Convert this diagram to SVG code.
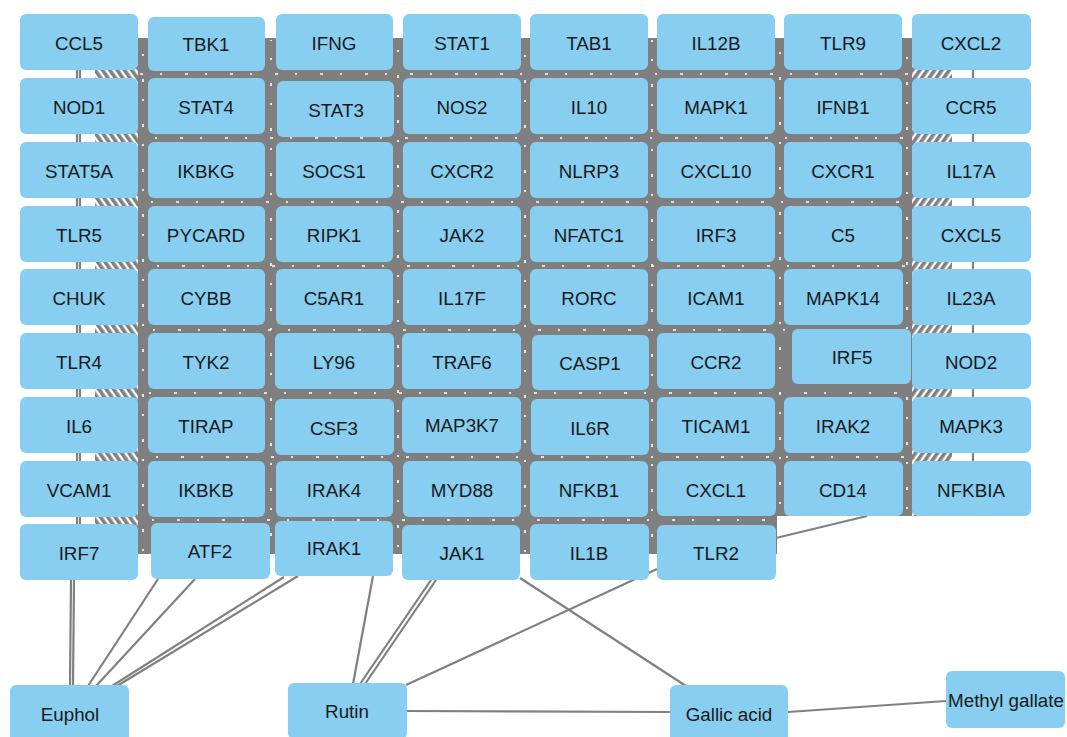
<svg xmlns="http://www.w3.org/2000/svg" width="1067" height="737" viewBox="0 0 1067 737">
<defs>
<pattern id="hatchL" width="6" height="6" patternUnits="userSpaceOnUse" patternTransform="rotate(-35)"><rect width="6" height="6" fill="#fff"/><rect width="3.6" height="6" fill="#808080"/></pattern>
<pattern id="hatchR" width="6" height="6" patternUnits="userSpaceOnUse" patternTransform="rotate(35)"><rect width="6" height="6" fill="#fff"/><rect width="3.6" height="6" fill="#808080"/></pattern>
</defs>
<style>
.n rect{fill:#87CEF0;stroke:none}
.n text{font-family:"Liberation Sans",Arial,sans-serif;font-size:18.8px;fill:#1a1a1a;text-anchor:middle;dominant-baseline:central}
.e{stroke:#808080;stroke-width:2.2;fill:none}
.sp{stroke:#fff;stroke-width:1.6;stroke-dasharray:3 17 2 23;fill:none}
</style>
<rect width="1067" height="737" fill="#fff"/>
<g id="connectors">
<path d="M138,38 H912 V516 H777 V554 H138 Z" fill="#7f7f7f"/>
<path d="M95,40 H138 V554 H95 Z" fill="url(#hatchL)"/>
<path d="M912,40 H952 V516 H912 Z" fill="url(#hatchR)"/>
<line class="e" x1="77" y1="42" x2="77" y2="552"/>
<line class="e" x1="80" y1="42" x2="80" y2="552"/>
<line class="e" x1="973" y1="42" x2="973" y2="490"/>
<g class="sp">
<line x1="140" y1="74" x2="910" y2="74"/>
<line x1="140" y1="138" x2="910" y2="138" stroke-dashoffset="5"/>
<line x1="140" y1="202" x2="910" y2="202" stroke-dashoffset="9"/>
<line x1="140" y1="266" x2="910" y2="266" stroke-dashoffset="3"/>
<line x1="140" y1="330" x2="910" y2="330" stroke-dashoffset="7"/>
<line x1="140" y1="393" x2="910" y2="393" stroke-dashoffset="11"/>
<line x1="140" y1="457" x2="910" y2="457" stroke-dashoffset="4"/>
<line x1="140" y1="520" x2="775" y2="520" stroke-dashoffset="8"/>
<line x1="143" y1="40" x2="143" y2="552" stroke-dashoffset="6"/>
<line x1="271" y1="40" x2="271" y2="552" stroke-dashoffset="2"/>
<line x1="398" y1="40" x2="398" y2="552" stroke-dashoffset="10"/>
<line x1="525" y1="40" x2="525" y2="552" stroke-dashoffset="5"/>
<line x1="652" y1="40" x2="652" y2="552" stroke-dashoffset="1"/>
<line x1="780" y1="40" x2="780" y2="516" stroke-dashoffset="8"/>
<line x1="907" y1="40" x2="907" y2="516" stroke-dashoffset="3"/>
</g>
<line class="e" x1="71" y1="580" x2="70" y2="686"/>
<line class="e" x1="74" y1="580" x2="73" y2="686"/>
<line class="e" x1="158" y1="579" x2="88" y2="686"/>
<line class="e" x1="195" y1="579" x2="96" y2="686"/>
<line class="e" x1="284" y1="577" x2="112" y2="686"/>
<line class="e" x1="298" y1="576" x2="117" y2="686"/>
<line class="e" x1="373" y1="576" x2="353" y2="684"/>
<line class="e" x1="431" y1="580" x2="360" y2="684"/>
<line class="e" x1="436" y1="580" x2="365" y2="684"/>
<line class="e" x1="657" y1="569" x2="406" y2="685"/>
<line class="e" x1="520" y1="578" x2="686" y2="686"/>
<line class="e" x1="407" y1="711" x2="670" y2="712"/>
<line class="e" x1="788" y1="712" x2="946" y2="701"/>
<line class="e" x1="776" y1="538" x2="867" y2="516"/>
</g>
<g id="CCL5" class="n"><rect x="20" y="14" width="118" height="56" rx="6"/><text x="79" y="43">CCL5</text></g>
<g id="TBK1" class="n"><rect x="148" y="17" width="117" height="54" rx="6"/><text x="206" y="44">TBK1</text></g>
<g id="IFNG" class="n"><rect x="276" y="14" width="117" height="56" rx="6"/><text x="334" y="43">IFNG</text></g>
<g id="STAT1" class="n"><rect x="403" y="14" width="118" height="56" rx="6"/><text x="462" y="43">STAT1</text></g>
<g id="TAB1" class="n"><rect x="530" y="14" width="118" height="56" rx="6"/><text x="589" y="43">TAB1</text></g>
<g id="IL12B" class="n"><rect x="657" y="14" width="118" height="56" rx="6"/><text x="716" y="43">IL12B</text></g>
<g id="TLR9" class="n"><rect x="784" y="14" width="118" height="56" rx="6"/><text x="843" y="43">TLR9</text></g>
<g id="CXCL2" class="n"><rect x="912" y="14" width="119" height="56" rx="6"/><text x="971" y="43">CXCL2</text></g>

<g id="NOD1" class="n"><rect x="20" y="78" width="118" height="56" rx="6"/><text x="79" y="107">NOD1</text></g>
<g id="STAT4" class="n"><rect x="148" y="78" width="117" height="56" rx="6"/><text x="206" y="107">STAT4</text></g>
<g id="STAT3" class="n"><rect x="277" y="81" width="117" height="56" rx="6"/><text x="336" y="110">STAT3</text></g>
<g id="NOS2" class="n"><rect x="403" y="78" width="118" height="56" rx="6"/><text x="462" y="107">NOS2</text></g>
<g id="IL10" class="n"><rect x="530" y="78" width="118" height="56" rx="6"/><text x="589" y="107">IL10</text></g>
<g id="MAPK1" class="n"><rect x="657" y="78" width="118" height="56" rx="6"/><text x="716" y="107">MAPK1</text></g>
<g id="IFNB1" class="n"><rect x="784" y="78" width="118" height="56" rx="6"/><text x="843" y="107">IFNB1</text></g>
<g id="CCR5" class="n"><rect x="912" y="78" width="119" height="56" rx="6"/><text x="971" y="107">CCR5</text></g>

<g id="STAT5A" class="n"><rect x="20" y="142" width="118" height="56" rx="6"/><text x="79" y="171">STAT5A</text></g>
<g id="IKBKG" class="n"><rect x="148" y="142" width="117" height="56" rx="6"/><text x="206" y="171">IKBKG</text></g>
<g id="SOCS1" class="n"><rect x="276" y="142" width="117" height="56" rx="6"/><text x="334" y="171">SOCS1</text></g>
<g id="CXCR2" class="n"><rect x="403" y="142" width="118" height="56" rx="6"/><text x="462" y="171">CXCR2</text></g>
<g id="NLRP3" class="n"><rect x="530" y="142" width="118" height="56" rx="6"/><text x="589" y="171">NLRP3</text></g>
<g id="CXCL10" class="n"><rect x="657" y="142" width="118" height="56" rx="6"/><text x="716" y="171">CXCL10</text></g>
<g id="CXCR1" class="n"><rect x="784" y="142" width="118" height="56" rx="6"/><text x="843" y="171">CXCR1</text></g>
<g id="IL17A" class="n"><rect x="912" y="142" width="119" height="56" rx="6"/><text x="971" y="171">IL17A</text></g>

<g id="TLR5" class="n"><rect x="20" y="206" width="118" height="56" rx="6"/><text x="79" y="235">TLR5</text></g>
<g id="PYCARD" class="n"><rect x="148" y="206" width="117" height="56" rx="6"/><text x="206" y="235">PYCARD</text></g>
<g id="RIPK1" class="n"><rect x="276" y="206" width="117" height="56" rx="6"/><text x="334" y="235">RIPK1</text></g>
<g id="JAK2" class="n"><rect x="403" y="206" width="118" height="56" rx="6"/><text x="462" y="235">JAK2</text></g>
<g id="NFATC1" class="n"><rect x="530" y="206" width="118" height="56" rx="6"/><text x="589" y="235">NFATC1</text></g>
<g id="IRF3" class="n"><rect x="657" y="206" width="118" height="56" rx="6"/><text x="716" y="235">IRF3</text></g>
<g id="C5" class="n"><rect x="784" y="206" width="118" height="56" rx="6"/><text x="843" y="235">C5</text></g>
<g id="CXCL5" class="n"><rect x="912" y="206" width="119" height="56" rx="6"/><text x="971" y="235">CXCL5</text></g>

<g id="CHUK" class="n"><rect x="20" y="269" width="118" height="56" rx="6"/><text x="79" y="298">CHUK</text></g>
<g id="CYBB" class="n"><rect x="148" y="269" width="117" height="56" rx="6"/><text x="206" y="298">CYBB</text></g>
<g id="C5AR1" class="n"><rect x="276" y="269" width="117" height="56" rx="6"/><text x="334" y="298">C5AR1</text></g>
<g id="IL17F" class="n"><rect x="403" y="269" width="118" height="56" rx="6"/><text x="462" y="298">IL17F</text></g>
<g id="RORC" class="n"><rect x="530" y="269" width="118" height="56" rx="6"/><text x="589" y="298">RORC</text></g>
<g id="ICAM1" class="n"><rect x="657" y="269" width="118" height="56" rx="6"/><text x="716" y="298">ICAM1</text></g>
<g id="MAPK14" class="n"><rect x="784" y="269" width="119" height="56" rx="6"/><text x="843" y="298">MAPK14</text></g>
<g id="IL23A" class="n"><rect x="912" y="269" width="119" height="56" rx="6"/><text x="971" y="298">IL23A</text></g>

<g id="TLR4" class="n"><rect x="20" y="333" width="118" height="56" rx="6"/><text x="79" y="362">TLR4</text></g>
<g id="TYK2" class="n"><rect x="148" y="333" width="117" height="56" rx="6"/><text x="206" y="362">TYK2</text></g>
<g id="LY96" class="n"><rect x="275" y="333" width="119" height="56" rx="6"/><text x="334" y="362">LY96</text></g>
<g id="TRAF6" class="n"><rect x="402" y="333" width="119" height="56" rx="6"/><text x="462" y="362">TRAF6</text></g>
<g id="CASP1" class="n"><rect x="532" y="335" width="117" height="55" rx="6"/><text x="590" y="363">CASP1</text></g>
<g id="CCR2" class="n"><rect x="657" y="333" width="118" height="56" rx="6"/><text x="716" y="362">CCR2</text></g>
<g id="IRF5" class="n"><rect x="792" y="329" width="119" height="55" rx="6"/><text x="852" y="357">IRF5</text></g>
<g id="NOD2" class="n"><rect x="912" y="333" width="119" height="56" rx="6"/><text x="971" y="362">NOD2</text></g>

<g id="IL6" class="n"><rect x="20" y="397" width="118" height="56" rx="6"/><text x="79" y="426">IL6</text></g>
<g id="TIRAP" class="n"><rect x="148" y="397" width="117" height="56" rx="6"/><text x="206" y="426">TIRAP</text></g>
<g id="CSF3" class="n"><rect x="275" y="399" width="119" height="56" rx="6"/><text x="334" y="428">CSF3</text></g>
<g id="MAP3K7" class="n"><rect x="402" y="397" width="119" height="56" rx="6"/><text x="462" y="425">MAP3K7</text></g>
<g id="IL6R" class="n"><rect x="531" y="399" width="118" height="56" rx="6"/><text x="590" y="428">IL6R</text></g>
<g id="TICAM1" class="n"><rect x="657" y="397" width="118" height="56" rx="6"/><text x="716" y="426">TICAM1</text></g>
<g id="IRAK2" class="n"><rect x="784" y="397" width="119" height="56" rx="6"/><text x="843" y="426">IRAK2</text></g>
<g id="MAPK3" class="n"><rect x="912" y="397" width="119" height="56" rx="6"/><text x="971" y="426">MAPK3</text></g>

<g id="VCAM1" class="n"><rect x="20" y="461" width="118" height="56" rx="6"/><text x="79" y="490">VCAM1</text></g>
<g id="IKBKB" class="n"><rect x="148" y="461" width="117" height="56" rx="6"/><text x="206" y="490">IKBKB</text></g>
<g id="IRAK4" class="n"><rect x="276" y="461" width="117" height="56" rx="6"/><text x="334" y="490">IRAK4</text></g>
<g id="MYD88" class="n"><rect x="403" y="461" width="118" height="56" rx="6"/><text x="462" y="490">MYD88</text></g>
<g id="NFKB1" class="n"><rect x="530" y="461" width="118" height="56" rx="6"/><text x="589" y="490">NFKB1</text></g>
<g id="CXCL1" class="n"><rect x="657" y="461" width="119" height="55" rx="6"/><text x="716" y="490">CXCL1</text></g>
<g id="CD14" class="n"><rect x="784" y="461" width="119" height="55" rx="6"/><text x="843" y="490">CD14</text></g>
<g id="NFKBIA" class="n"><rect x="912" y="461" width="119" height="55" rx="6"/><text x="971" y="490">NFKBIA</text></g>

<g id="IRF7" class="n"><rect x="20" y="524" width="118" height="56" rx="6"/><text x="79" y="553">IRF7</text></g>
<g id="ATF2" class="n"><rect x="151" y="523" width="119" height="56" rx="6"/><text x="210" y="551">ATF2</text></g>
<g id="IRAK1" class="n"><rect x="275" y="521" width="118" height="55" rx="6"/><text x="334" y="548">IRAK1</text></g>
<g id="JAK1" class="n"><rect x="402" y="525" width="118" height="55" rx="6"/><text x="462" y="553">JAK1</text></g>
<g id="IL1B" class="n"><rect x="530" y="524" width="119" height="56" rx="6"/><text x="589" y="553">IL1B</text></g>
<g id="TLR2" class="n"><rect x="657" y="525" width="119" height="55" rx="6"/><text x="716" y="553">TLR2</text></g>

<g id="Euphol" class="n"><rect x="10" y="685" width="119" height="58" rx="6"/><text x="70" y="714">Euphol</text></g>
<g id="Rutin" class="n"><rect x="288" y="683" width="119" height="56" rx="6"/><text x="347" y="711">Rutin</text></g>
<g id="Gallic_acid" class="n"><rect x="670" y="685" width="118" height="57" rx="6"/><text x="729" y="714">Gallic acid</text></g>
<g id="Methyl_gallate" class="n"><rect x="946" y="671" width="119" height="57" rx="6"/><text x="1006" y="700">Methyl gallate</text></g>
</svg>
